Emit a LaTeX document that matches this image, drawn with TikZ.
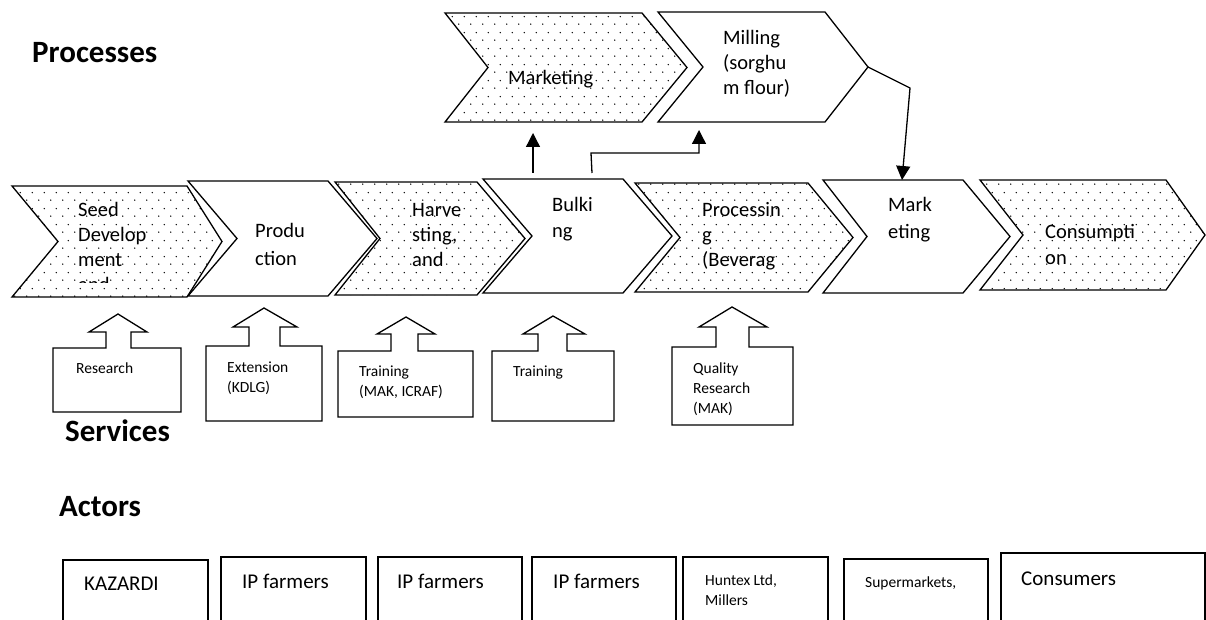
\documentclass[tikz,border=0pt]{standalone}
\usepackage{fontspec}
\setmainfont{Carlito}
\usetikzlibrary{arrows.meta,patterns}
\pgfdeclarepatternformonly{sdots}{\pgfpointorigin}{\pgfpoint{12pt}{16pt}}{\pgfpoint{12pt}{16pt}}{%
  \pgfpathcircle{\pgfpoint{3pt}{4pt}}{0.8pt}%
  \pgfpathcircle{\pgfpoint{9pt}{12pt}}{0.8pt}%
  \pgfusepath{fill}}
\newcommand{\nsp}{\spaceskip=0pt\xspaceskip=0pt\relax}
\begin{document}
\begin{tikzpicture}[x=1pt,y=-1pt,
  shp/.style={draw=black,line width=1.3pt,line join=miter},
  dotchev/.style={shp,pattern=sdots},
  conn/.style={line width=1.3pt},
  arr/.style={conn,-{Triangle[width=14pt,length=14pt]}},
  txt/.style={anchor=base west,inner sep=0pt,text width=110pt,font=\fontsize{20.5}{25}\selectfont,execute at begin node=\nsp},
  stxt/.style={anchor=base west,inner sep=0pt,text width=110pt,font=\fontsize{15.5}{20}\selectfont,execute at begin node=\nsp},
  head/.style={anchor=base west,inner sep=0pt,font=\fontsize{31}{36}\selectfont\bfseries}]
\clip (0,0) rectangle (1206,620);
\fill[white] (0,0) rectangle (1206,620);

% headings
\node[head] (hproc) at (32,63) {Processes};
\node[head] (hserv) at (65,441) {Services};
\node[head] (hact) at (59,516) {Actors};

% top chevrons
\draw[dotchev] (445,13) -- (642,13) -- (687,67.5) -- (642,122) -- (445,122) -- (488,67.5) -- cycle;
\draw[shp] (658,12) -- (825,12) -- (868,67) -- (825,122) -- (658,122) -- (703,67) -- cycle;
\node[txt] (tmkt1) at (508,85) {Marketing};
\node[txt] (tmill) at (723,45) {Milling\\(sorghu\\m flour)};

% middle chevrons
\draw[dotchev] (12,186) -- (187,186) -- (222,241.5) -- (187,297) -- (12,297) -- (58,241.5) -- cycle;
\draw[shp] (188,181) -- (328,181) -- (377,238.5) -- (328,296) -- (188,296) -- (237,238.5) -- cycle;
\draw[dotchev] (335,182) -- (477,182) -- (525,238.5) -- (477,295) -- (335,295) -- (380,238.5) -- cycle;
\draw[shp] (483,179) -- (623,179) -- (672,236) -- (623,293) -- (483,293) -- (532,236) -- cycle;
\draw[dotchev] (635,183) -- (808,183) -- (853,237.5) -- (808,292) -- (635,292) -- (680,237.5) -- cycle;
\draw[shp] (823,180) -- (963,180) -- (1010,236.5) -- (963,293) -- (823,293) -- (867,236.5) -- cycle;
\draw[dotchev] (980,180) -- (1166,180) -- (1205,235) -- (1166,290) -- (980,290) -- (1023,235) -- cycle;

\begin{scope}
\clip (12,180) rectangle (222,282.5);
\node[txt] (tseed) at (78,217) {Seed\\Develop\\ment\\and};
\end{scope}
\node[txt,font=\fontsize{20.5}{28}\selectfont] (tprod) at (255,237) {Produ\\ction};
\node[txt] (tharv) at (412,217) {Harve\\sting,\\and};
\node[txt] (tbulk) at (552,212) {Bulki\\ng};
\node[txt] (tproc) at (702,217) {Processin\\g\\(Beverag};
\node[txt,font=\fontsize{20.5}{26}\selectfont] (tmkt2) at (888,212) {Mark\\eting};
\node[txt,font=\fontsize{20.5}{26}\selectfont] (tcons) at (1045,238) {Consumpti\\on};

% connectors
\coordinate (bulkA) at (533,173);
\coordinate (mktA) at (533,133);
\coordinate (bulkB) at (592,173);
\coordinate (bendB) at (591,153);
\coordinate (cornB) at (699,153);
\coordinate (millA) at (699,130);
\coordinate (millTip) at (868,67);
\coordinate (bendC) at (910,88);
\coordinate (mkt2Top) at (902,180);
\draw[arr] (bulkA) -- (mktA);
\draw[arr] (bulkB) -- (bendB) -- (cornB) -- (millA);
\draw[arr] (millTip) -- (bendC) -- (mkt2Top);

% service block arrows
\draw[shp] (53,412) -- (53,348) -- (106,348) -- (106,332) -- (89,332) -- (118,314) -- (147,332) -- (131,332) -- (131,348) -- (181,348) -- (181,412) -- cycle;
\draw[shp] (206,421) -- (206,346) -- (249,346) -- (249,327) -- (233,327) -- (264,308) -- (297,327) -- (280,327) -- (280,346) -- (322,346) -- (322,421) -- cycle;
\draw[shp] (338,417) -- (338,351) -- (391,351) -- (391,334) -- (377,334) -- (406,317) -- (435,334) -- (418,334) -- (418,351) -- (473,351) -- (473,417) -- cycle;
\draw[shp] (492,421) -- (492,351) -- (538,351) -- (538,334) -- (523,334) -- (553,316) -- (585,334) -- (567,334) -- (567,351) -- (614,351) -- (614,421) -- cycle;
\draw[shp] (672,425) -- (672,347) -- (716,347) -- (716,327) -- (699,327) -- (732,307) -- (767,327) -- (749,327) -- (749,347) -- (793,347) -- (793,425) -- cycle;

\node[stxt] (sres) at (76,373) {Research};
\node[stxt] (sext) at (227,372) {Extension\\(KDLG)};
\node[stxt] (strn1) at (359,376) {Training\\(MAK, ICRAF)};
\node[stxt] (strn2) at (513,376) {Training};
\node[stxt] (squal) at (693,373) {Quality\\Research\\(MAK)};

% actors
\draw[shp] (63,560) rectangle (208,640);
\draw[shp] (221,557) rectangle (366,640);
\draw[shp] (378,557) rectangle (522,640);
\draw[shp] (532,557) rectangle (676,640);
\draw[shp] (683,557) rectangle (828,640);
\draw[shp] (844,559) rectangle (988,640);
\draw[shp] (1001,553) rectangle (1205,640);

\node[txt,font=\fontsize{21}{25}\selectfont] (akaz) at (84,590) {KAZARDI};
\node[txt,font=\fontsize{21}{25}\selectfont] (aip1) at (242,588) {IP farmers};
\node[txt,font=\fontsize{21}{25}\selectfont] (aip2) at (397,588) {IP farmers};
\node[txt,font=\fontsize{21}{25}\selectfont] (aip3) at (553,588) {IP farmers};
\node[stxt] (ahun) at (705,585) {Huntex Ltd,\\Millers};
\node[stxt] (asup) at (865,587) {Supermarkets,};
\node[txt,font=\fontsize{21}{25}\selectfont] (acon) at (1021,585) {Consumers};
\end{tikzpicture}
\end{document}
